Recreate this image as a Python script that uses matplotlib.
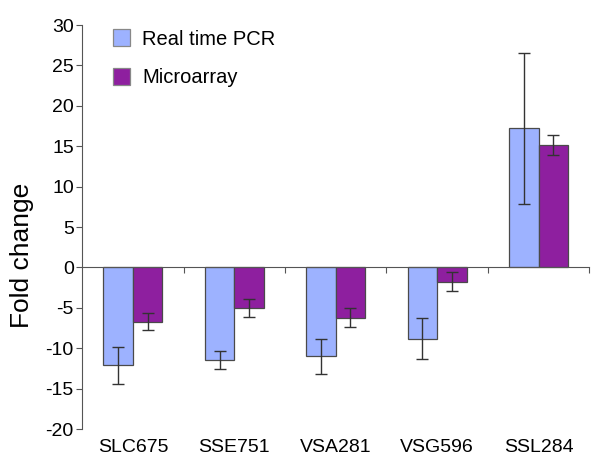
import numpy as np
import matplotlib
matplotlib.use("Agg")
import matplotlib.pyplot as plt

plt.rcParams['font.family'] = ['Liberation Sans', 'DejaVu Sans']
plt.rcParams['axes.unicode_minus'] = False

# data
genes = ['SLC675', 'SSE751', 'VSA281', 'VSG596', 'SSL284']
pcr = [-12.1, -11.5, -11.0, -8.8, 17.2]
pcr_err = [2.3, 1.1, 2.15, 2.55, 9.4]
micro = [-6.7, -5.0, -6.2, -1.75, 15.2]
micro_err = [1.0, 1.1, 1.13, 1.13, 1.25]
labels = ['Real time PCR', 'Microarray']

blue = '#9DB2FF'
purple = '#8E1F9F'
edge = '#4a4a4a'

fig = plt.figure(figsize=(6, 4.73), dpi=100)
ax = fig.add_axes([0.137, 0.093, 0.845, 0.854])

x = np.arange(len(genes))
w = 0.29
errkw = dict(ecolor='#333333', elinewidth=1.0, capsize=4, capthick=1.0)
ax.bar(x - w / 2, pcr, w, yerr=pcr_err, color=blue, edgecolor=edge,
       linewidth=0.9, error_kw=errkw, label=labels[0])
ax.bar(x + w / 2, micro, w, yerr=micro_err, color=purple, edgecolor=edge,
       linewidth=0.9, error_kw=errkw, label=labels[1])

ax.set_xlim(-0.5, len(genes) - 0.5)
ax.set_ylim(-20, 30)
ax.set_yticks(np.arange(-20, 31, 5))
ax.tick_params(axis='y', direction='out', length=4, width=0.8,
               colors='#555555', labelcolor='black', labelsize=14, pad=2)

for s in ['top', 'right']:
    ax.spines[s].set_visible(False)
ax.spines['left'].set_color('#555555')
ax.spines['bottom'].set_position(('data', 0))
ax.spines['bottom'].set_color('#555555')

# boundary ticks on the zero line
ax.set_xticks([])
ax.set_xticks(np.arange(len(genes)) + 0.5, minor=True)
ax.tick_params(axis='x', which='minor', direction='out', length=4,
               width=0.8, colors='#555555', labelbottom=False)

# gene names at the bottom of the axes
sec = ax.secondary_xaxis(0)
sec.set_xticks(x)
sec.set_xticklabels(genes, fontsize=14)
sec.tick_params(length=0, pad=7)
sec.spines['bottom'].set_visible(False)

ax.set_ylabel('Fold change', fontsize=19)
ax.yaxis.set_label_coords(-0.095, 0.43)

leg = ax.legend(loc='upper left', bbox_to_anchor=(0.025, 1.035), frameon=False,
                fontsize=14.5, handlelength=0.85, handleheight=0.95,
                labelspacing=0.95, handletextpad=0.6)
for h in leg.legend_handles:
    h.set_edgecolor('#888888')

fig.savefig('out.png', dpi=100)
